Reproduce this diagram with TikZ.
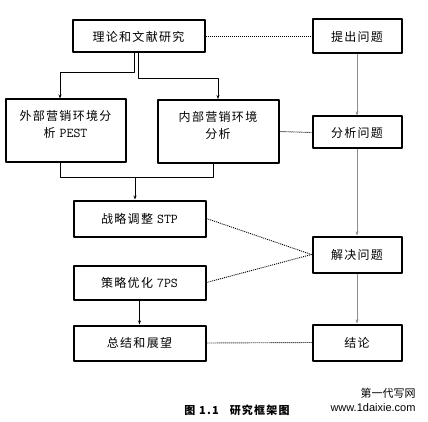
\documentclass[tikz,border=0pt]{standalone}
\usepackage{fontspec}
\newfontfamily\zhfont{Noto Sans CJK SC}
\newfontfamily\zhspaced[LetterSpace=11]{Noto Sans CJK SC}
\newfontfamily\webfont{Liberation Sans}
\usetikzlibrary{arrows.meta}
\definecolor{FrameGray}{HTML}{8C8C8C}
\newcommand\boxlatin[1]{{\ttfamily\fontsize{13.5}{17}\selectfont #1}}

\begin{document}
\begin{tikzpicture}[x=1pt,y=-1pt,line join=round,
  box/.style={draw,line width=2pt,font=\zhspaced\fontsize{12}{17}\selectfont,align=center,inner sep=0pt},
  link/.style={-{Stealth[length=4pt,width=3pt]},line width=0.8pt},
  relation/.style={dash pattern=on 1pt off 1pt,line width=0.9pt}]
  \useasboundingbox (0,0) rectangle (428,422);
  % left column
  \node[box,minimum width=132pt,minimum height=32pt] (theory) at (138.5,36.5) {理论和文献研究};
  \node[box,minimum width=120pt,minimum height=63pt] (outer) at (65.5,131) {外部营销环境分\\析 \boxlatin{PEST}\\[-3pt]\mbox{}};
  \node[box,minimum width=121pt,minimum height=63pt] (inner) at (218,131.5) {内部营销环境\\分析\\[-3pt]\mbox{}};
  \node[box,minimum width=132pt,minimum height=36pt] (stp) at (139.5,218.5) {战略调整 \boxlatin{STP}};
  \node[box,minimum width=132pt,minimum height=34pt] (sevenps) at (139.5,282.5) {策略优化 \boxlatin{7PS}};
  \node[box,minimum width=132pt,minimum height=35pt] (summary) at (139.5,343) {总结和展望};
  % right column
  \node[box,minimum width=89pt,minimum height=34pt] (raise) at (357,36.5) {提出问题};
  \node[box,minimum width=89pt,minimum height=32pt] (analyse) at (357,132.5) {分析问题};
  \node[box,minimum width=89pt,minimum height=36pt] (solve) at (357,254.5) {解决问题};
  \node[box,minimum width=89pt,minimum height=36pt] (conclude) at (357,342.5) {结论};
  % flow of the study
  \draw[link] ([xshift=-4.5pt]theory.south) -- ++(0,19) -| ([xshift=-5.5pt]outer.north);
  \draw[link] ([xshift=-0.5pt]theory.south) -- ++(0,25) -| (inner.north);
  \coordinate (merge) at (135,177);
  \draw[line width=0.8pt] ([xshift=-5.5pt]outer.south) -- ++(0,14) -| ([xshift=-5pt]inner.south);
  \draw[link] (merge) -- (merge |- stp.north);
  \draw[link] (sevenps) -- (summary);
  \draw[link,FrameGray] (raise) -- (analyse);
  \draw[link,FrameGray] (analyse) -- (solve);
  \draw[link,FrameGray] (solve) -- (conclude);
  % correspondences
  \draw[relation] (theory.east) -- (raise.west);
  \draw[relation] (inner.east) -- (analyse.west);
  \draw[relation] (stp.east) -- (solve.west);
  \draw[relation] (sevenps.east) -- (solve.west);
  \draw[relation] (summary.east) -- (conclude.west);
  % caption
  \node[font=\zhspaced\bfseries\fontsize{11}{13}\selectfont] (caption) at (237,410) {图 1.1\quad 研究框架图};
  \node[font=\zhfont\fontsize{11}{13}\selectfont] (mark) at (388,393) {第一代写网};
  \node[font=\webfont\fontsize{11}{13}\selectfont] (site) at (373,408) {www.1daixie.com};
\end{tikzpicture}
\end{document}
